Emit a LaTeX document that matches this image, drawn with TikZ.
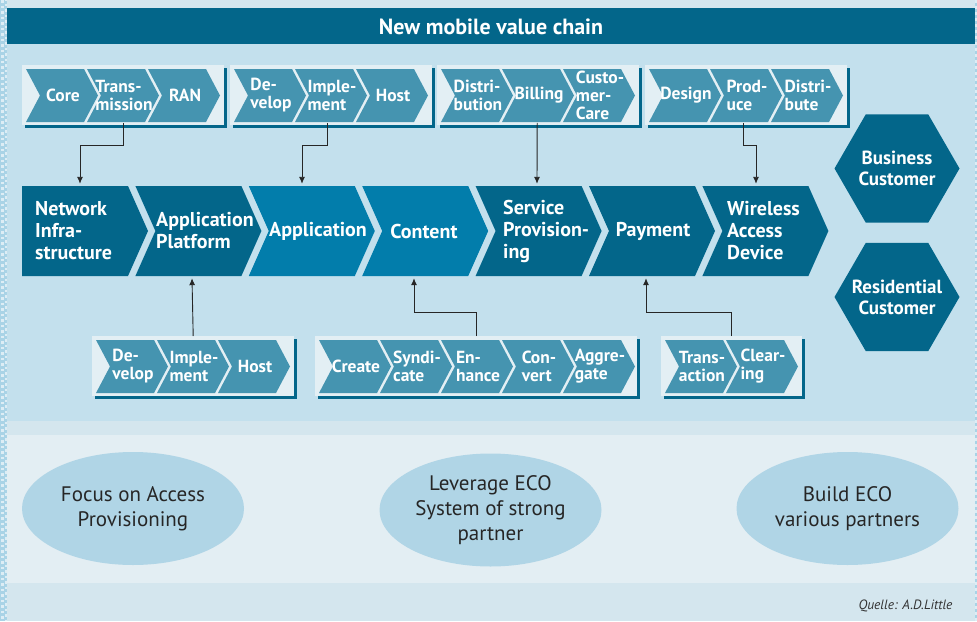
\documentclass[tikz,border=0pt]{standalone}
\usepackage{fontspec}
\setmainfont{PT Sans}
\usetikzlibrary{shapes.geometric,arrows.meta}
\definecolor{panel}{HTML}{C3E0ED}
\definecolor{topstrip}{HTML}{D4E6EE}
\definecolor{petrol}{HTML}{03668A}
\definecolor{bright}{HTML}{027DAB}
\definecolor{framec}{HTML}{E3EFF4}
\definecolor{schevc}{HTML}{4594B0}
\definecolor{lightpanel}{HTML}{E3EEF3}
\definecolor{ellc}{HTML}{B0D5E6}
\definecolor{stripe}{HTML}{A9D3E6}
\tikzset{
  frame/.style={fill=framec, inner sep=0pt, anchor=north west, minimum height=60pt},
  stext/.style={text=white, font=\fontsize{17.5}{18}\selectfont\bfseries, align=left, inner sep=0pt},
  mtext/.style={text=white, font=\fontsize{20}{22}\selectfont\bfseries, align=left, inner sep=0pt},
  mbox/.style={minimum width=90pt, minimum height=90pt, inner sep=0pt},
  hexa/.style={regular polygon, regular polygon sides=6, minimum size=125pt, inner sep=0pt, fill=petrol},
  hexlabel/.style={text=white, font=\fontsize{19}{21}\selectfont\bfseries, align=center, inner sep=0pt},
  ell/.style={ellipse, fill=ellc, minimum width=222pt, minimum height=113pt, inner sep=0pt, align=center, text=black!85, font=\fontsize{21}{25}\selectfont},
  conn/.style={draw=black!85, line width=0.9pt, -{Latex[length=7pt,width=6pt]}},
}
% small chevron: x, ytop, text
\newcommand\schev[3]{%
  \fill[schevc] (#1,#2) -- ++(58,0) -- ++(14,26.5) -- ++(-14,26.5) -- ++(-58,0) -- ++(14,-26.5) -- cycle;
  \node[stext] at (#1+37,#2+26.5) {#3};}
% frame shadow: x, y, width
\newcommand\fshadow[3]{\fill[petrol] (#1+2.5,#2+2.5) rectangle (#1+#3+2.5,#2+62.5);}
\begin{document}
\begin{tikzpicture}[x=1pt,y=-1pt]
\useasboundingbox (0,0) rectangle (977,621);
% backgrounds
\fill[topstrip] (0,0) rectangle (977,621);
\fill[panel] (7,43) rectangle (975,421);
\fill[topstrip] (7,421) rectangle (975,435);
\fill[lightpanel] (7,435) rectangle (975,583);
\fill[topstrip] (7,583) rectangle (975,621);
\fill[stripe] (0,0) rectangle (7,621);
\draw[white!60!stripe, line width=3pt, dash pattern=on 2.5pt off 3pt] (2,0) -- (2,621);
\draw[white!60!stripe, line width=2pt, dash pattern=on 2.5pt off 3pt, dash phase=2pt] (5.5,0) -- (5.5,621);
\fill[stripe] (975,0) rectangle (977,621);
\draw[white!60!stripe, line width=2pt, dash pattern=on 3pt off 3pt] (976,0) -- (976,621);
% title
\fill[petrol] (7,8) rectangle (975,43.5);
\node[text=white, font=\fontsize{22}{24}\selectfont\bfseries] (title) at (491,26.5) {New mobile value chain};

% top frames
\fshadow{22}{65}{202}
\node[frame, minimum width=202pt] (g1) at (22,65) {};
\fshadow{230}{65}{202}
\node[frame, minimum width=202pt] (g2) at (230,65) {};
\fshadow{437}{65}{202}
\node[frame, minimum width=202pt] (g3) at (437,65) {};
\fshadow{645}{65}{202}
\node[frame, minimum width=202pt] (g4) at (645,65) {};
\schev{26}{69}{Core}
\schev{87}{69}{Trans-\\mission}
\schev{148}{69}{RAN}
\schev{234}{69}{De-\\velop}
\schev{295}{69}{Imple-\\ment}
\schev{356}{69}{Host}
\schev{441}{69}{Distri-\\bution}
\schev{502}{69}{Billing}
\schev{563}{69}{\fontsize{17.5}{14.5}\selectfont Custo-\\mer-\\Care}
\schev{649}{69}{Design}
\schev{710}{69}{Prod-\\uce}
\schev{771}{69}{Distri-\\bute}

% bottom frames
\fshadow{92}{336}{202}
\node[frame, minimum width=202pt] (b1) at (92,336) {};
\fshadow{315}{336}{322}
\node[frame, minimum width=322pt] (b2) at (315,336) {};
\fshadow{661}{336}{141}
\node[frame, minimum width=141pt] (b3) at (661,336) {};
\schev{96}{340}{De-\\velop}
\schev{157}{340}{Imple-\\ment}
\schev{218}{340}{Host}
\schev{319}{340}{Create}
\schev{380}{340}{Syndi-\\cate}
\schev{441}{340}{En-\\hance}
\schev{502}{340}{Con-\\vert}
\schev{563}{340}{Aggre-\\gate}
\schev{665}{340}{Trans-\\action}
\schev{726}{340}{Clear-\\ing}

% main chevrons
\fill[petrol] (22,186) -- ++(106,0) -- ++(20,45) -- ++(-20,45) -- ++(-106,0) -- cycle;
\foreach \s/\c in {135.4/petrol, 248.8/bright, 362.2/bright, 475.6/petrol, 589/petrol, 702.4/petrol}{
  \fill[\c] (\s,186) -- ++(106,0) -- ++(20,45) -- ++(-20,45) -- ++(-106,0) -- ++(20,-45) -- cycle;
}
\node[mbox] (m1) at (80,231) {};
\node[mbox] (m2) at (192,231) {};
\node[mbox] (m3) at (302,231) {};
\node[mbox] (m4) at (414,231) {};
\node[mbox] (m5) at (537,231) {};
\node[mbox] (m6) at (646,231) {};
\node[mbox] (m7) at (756,231) {};
\node[mtext, anchor=west] (t1) at (35,231) {Network\\Infra-\\structure};
\node[mtext, anchor=west] (t2) at (156,231) {Application\\Platform};
\node[mtext] (t3) at (318,231) {Application};
\node[mtext] (t4) at (424,231) {Content};
\node[mtext, anchor=west] (t5) at (503,231) {Service\\Provision-\\ing};
\node[mtext] (t6) at (653,231) {Payment};
\node[mtext, anchor=west] (t7) at (727,231) {Wireless\\Access\\Device};

% hexagons
\node[hexa] (h1) at (897,168.5) {};
\node[hexlabel] (h1t) at (h1.center) {Business\\Customer};
\node[hexa] (h2) at (897,297) {};
\node[hexlabel] (h2t) at (h2.center) {Residential\\Customer};

% connectors
\draw[conn] ([yshift=2.5pt]g1.south) -- ++(0,23) -| ([yshift=2pt]m1.north);
\draw[conn] ([xshift=-4pt,yshift=2.5pt]g2.south) -- ++(0,23) -| ([yshift=2pt]m3.north);
\draw[conn] ([xshift=-1pt,yshift=2.5pt]g3.south) -- ([yshift=2pt]m5.north);
\draw[conn] ([xshift=-3pt,yshift=2.5pt]g4.south) -- ++(0,23) -| ([yshift=2pt]m7.north);
\draw[conn] (b1.north) -- ([yshift=-2pt]m2.south);
\draw[conn] (b2.north) -- ++(0,-24) -| ([yshift=-2pt]m4.south);
\draw[conn] (b3.north) -- ++(0,-24) -| ([yshift=-2pt]m6.south);

% ellipses
\node[ell] (e1) at (133,508.5) {Focus on Access\\Provisioning};
\node[ell] (e2) at (490.5,510) {Leverage ECO\\System of strong\\partner};
\node[ell] (e3) at (847.5,508.5) {Build ECO\\various partners};

\node[anchor=base east, font=\fontsize{13.5}{15}\selectfont\itshape, text=black!80] (src) at (956,609) {Quelle: A.D.Little};
\end{tikzpicture}
\end{document}
